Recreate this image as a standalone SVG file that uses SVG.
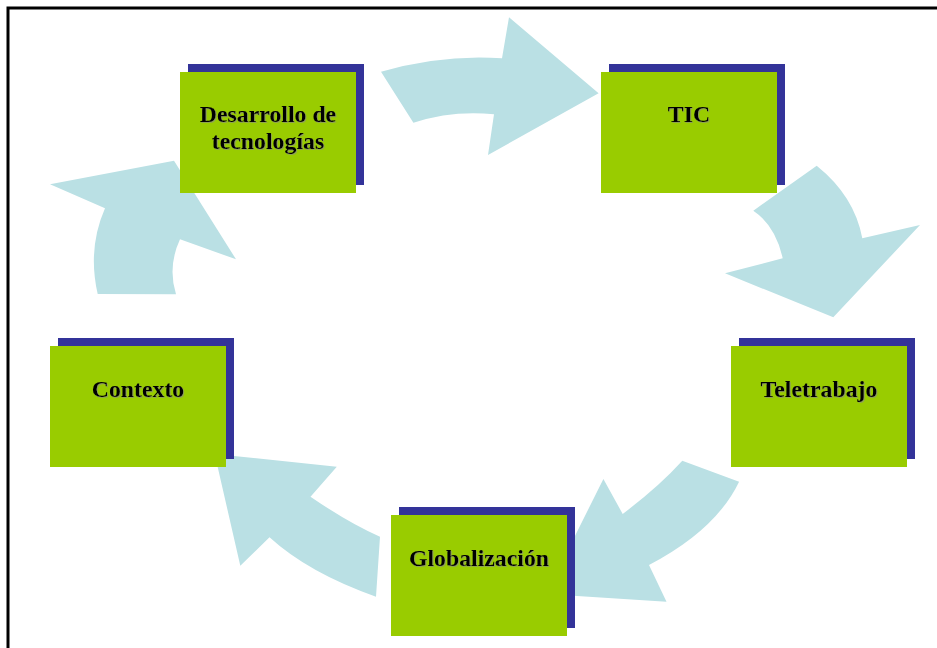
<svg xmlns="http://www.w3.org/2000/svg" width="937" height="648" viewBox="0 0 937 648">
<defs>
<style>
.shadow{fill:#333399}
.box{fill:#99CC00}
.arrow{fill:#BAE0E4;stroke:none}
.lbl{font-family:"Liberation Serif","Times New Roman",serif;font-weight:bold;font-size:23.8px;fill:#000;text-anchor:middle;filter:url(#ts)}
</style>
<filter id="ts" x="-10%" y="-20%" width="120%" height="150%">
<feDropShadow dx="1" dy="1" stdDeviation="0.4" flood-color="#888" flood-opacity="0.6"/>
</filter>
</defs>
<rect width="937" height="648" fill="#fff"/>
<rect x="8" y="8" width="1000" height="1000" fill="none" stroke="#000" stroke-width="3"/>
<g id="connectors">
<path class="arrow" d="M381,71.7 Q443,54 502,58.3 L509,17.3 L598.6,93.3 L488,155 L494,114.3 Q452.7,110 413.4,122.7 Z"/>
<path class="arrow" d="M816.7,165.7 Q854.5,196 862.3,238.3 L920,225 L833.3,317.3 L725,273.3 L782.7,258.3 Q775.4,225.5 753.3,210.7 Z"/>
<path class="arrow" d="M682.3,460.7 L739.1,481.7 Q716,530 649,565 L666.5,601.7 L546,594 L603.4,479 L622.7,514 Q659.5,486 682.3,460.7 Z"/>
<path class="arrow" d="M380,536.7 L376,596.7 Q308.6,573 269.5,537.3 L240.3,565.7 L214.7,454 L336.8,466.7 L310.5,496.7 Q349.3,523.3 380,536.7 Z"/>
<path class="arrow" d="M97.7,294 Q87.3,248.8 105,208.3 L50,184.3 L174,160.7 L236,259.3 L180,239.3 Q167.4,266.6 176,294.3 Z"/>
</g>
<g id="node-desarrollo">
<rect class="shadow" x="188" y="64" width="176" height="121"/>
<rect class="box" x="180" y="72" width="176" height="121"/>
<text class="lbl" x="268" y="122">Desarrollo de</text>
<text class="lbl" x="268" y="149">tecnologías</text>
</g>
<g id="node-tic">
<rect class="shadow" x="609" y="64" width="176" height="121"/>
<rect class="box" x="601" y="72" width="176" height="121"/>
<text class="lbl" x="689" y="122">TIC</text>
</g>
<g id="node-teletrabajo">
<rect class="shadow" x="739" y="338" width="176" height="121"/>
<rect class="box" x="731" y="346" width="176" height="121"/>
<text class="lbl" x="819" y="397">Teletrabajo</text>
</g>
<g id="node-globalizacion">
<rect class="shadow" x="399" y="507" width="176" height="121"/>
<rect class="box" x="391" y="515" width="176" height="121"/>
<text class="lbl" x="479" y="566">Globalización</text>
</g>
<g id="node-contexto">
<rect class="shadow" x="58" y="338" width="176" height="121"/>
<rect class="box" x="50" y="346" width="176" height="121"/>
<text class="lbl" x="138" y="397">Contexto</text>
</g>
</svg>
